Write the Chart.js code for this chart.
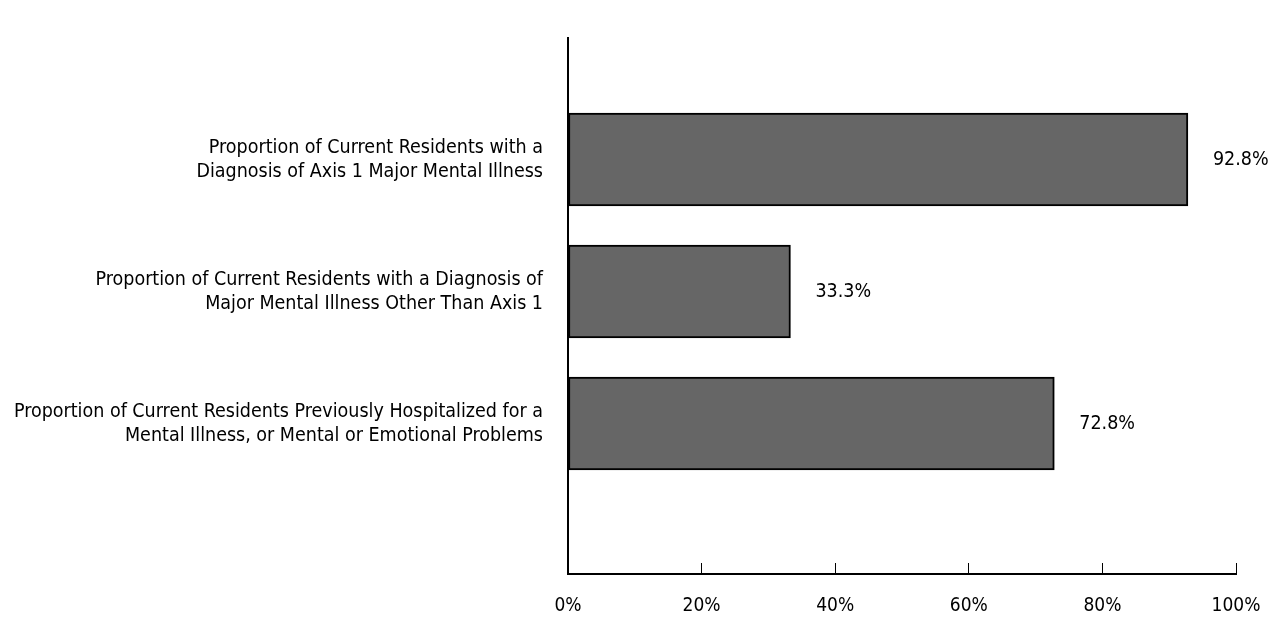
<!DOCTYPE html>
<html>
<head>
<meta charset="utf-8">
<script src="https://cdn.jsdelivr.net/npm/chart.js@4.4.1/dist/chart.umd.min.js"></script>
<style>
  html, body { margin: 0; padding: 0; background: #fff; }
  #wrap { width: 1279px; height: 620px; }
</style>
</head>
<body>
<div id="wrap"><canvas id="c"></canvas></div>
<script>
// categories (one array per label, one entry per line)
var categories = [
    ['Proportion of Current Residents with a', 'Diagnosis of Axis 1 Major Mental Illness'],
    ['Proportion of Current Residents with a Diagnosis of', 'Major Mental Illness Other Than Axis 1'],
    ['Proportion of Current Residents Previously Hospitalized for a', 'Mental Illness, or Mental or Emotional Problems']
];
var values = [92.8, 33.3, 72.8];
var xTicks = [0, 20, 40, 60, 80, 100];

var FONT = "'Liberation Sans Narrow', 'Arial Narrow', 'DejaVu Sans Condensed', sans-serif";
Chart.defaults.font.family = FONT;
Chart.defaults.color = '#000';

var points = values.map(function (v, i) { return { x: v, y: i }; });

var valueLabels = {
    id: 'valueLabels',
    afterDatasetsDraw: function (chart) {
        var ctx = chart.ctx;
        var meta = chart.getDatasetMeta(0);
        ctx.save();
        ctx.font = '19.5px ' + FONT;
        ctx.fillStyle = '#000';
        ctx.textAlign = 'left';
        ctx.textBaseline = 'middle';
        meta.data.forEach(function (bar, i) {
            ctx.fillText(values[i].toFixed(1) + '%', bar.x + 25, bar.y);
        });
        ctx.restore();
    }
};

new Chart(document.getElementById('c'), {
    type: 'bar',
    data: {
        datasets: [{
            data: points,
            backgroundColor: '#666666',
            borderColor: '#000',
            borderWidth: 2,
            borderSkipped: false,
            barThickness: 93
        }]
    },
    options: {
        responsive: true,
        maintainAspectRatio: false,
        animation: false,
        indexAxis: 'y',
        layout: { padding: { top: 38, right: 43, left: 0, bottom: 0 } },
        plugins: {
            legend: { display: false },
            tooltip: { enabled: false }
        },
        scales: {
            x: {
                type: 'linear',
                min: 0, max: 100,
                afterBuildTicks: function (s) { s.ticks = xTicks.map(function (v) { return { value: v }; }); },
                afterFit: function (s) { s.height = 46; s.paddingLeft = 0; s.paddingRight = 0; },
                grid: { drawOnChartArea: false, drawTicks: true, tickLength: -11, color: '#000', lineWidth: 1 },
                border: { color: '#000', width: 2 },
                ticks: {
                    padding: 32,
                    maxRotation: 0,
                    font: { size: 19 },
                    color: '#000',
                    callback: function (v) { return v + '%'; }
                }
            },
            y: {
                type: 'linear',
                reverse: true,
                offset: false,
                min: -0.9205, max: 3.14,
                afterBuildTicks: function (s) { s.ticks = categories.map(function (_, i) { return { value: i }; }); },
                afterFit: function (s) { s.width = 568; s.paddingTop = 0; s.paddingBottom = 0; },
                grid: { display: false, drawTicks: false, offset: false },
                border: { color: '#000', width: 2 },
                ticks: {
                    padding: 25,
                    font: { size: 19.5, lineHeight: '24px' },
                    color: '#000',
                    callback: function (v) { return categories[v] || ''; }
                }
            }
        }
    },
    plugins: [valueLabels]
});
</script>
</body>
</html>
